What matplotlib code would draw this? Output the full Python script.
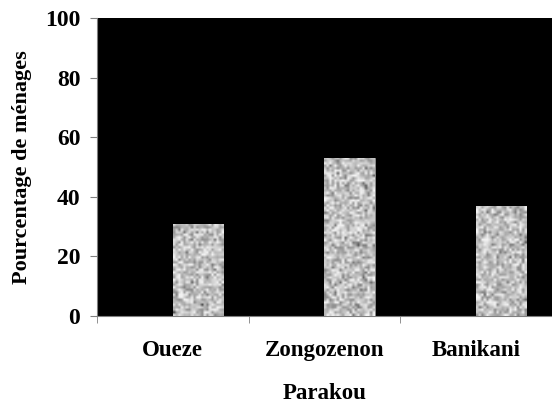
import numpy as np
import matplotlib.pyplot as plt

categories = ['Oueze', 'Zongozenon', 'Banikani']
values = [31, 53, 37]
yticks = [0, 20, 40, 60, 80, 100]

plt.rcParams['font.family'] = ['Liberation Serif', 'DejaVu Serif']
plt.rcParams['font.weight'] = 'bold'

fig = plt.figure(figsize=(5.52, 4.04), dpi=100)
ax = fig.add_axes([0.1757, 0.2178, 0.8243, 0.7376])
ax.set_facecolor('black')

x = np.arange(len(categories))
bars = ax.bar(x, values, width=0.33, align='edge', color='#b0b0b0',
              edgecolor='#909090', linewidth=0.6, zorder=2)

# speckled gray texture inside the bars
rng = np.random.default_rng(7)
for b in bars:
    noise = rng.normal(0.76, 0.14, size=(120, 20))
    noise = np.clip(noise, 0.25, 0.95)
    im = ax.imshow(noise, cmap='gray', vmin=0, vmax=1, aspect='auto',
                   extent=(b.get_x(), b.get_x() + b.get_width(), 0, 100),
                   interpolation='bilinear', zorder=3)
    im.set_clip_path(b)

ax.set_xlim(-0.5, 2.5)
ax.set_ylim(0, 100)
ax.set_yticks(yticks)
ax.set_xticks(x)
ax.set_xticklabels(categories, fontsize=16.5, fontweight='bold')
ax.set_xticks([-0.5, 0.5, 1.5], minor=True)
ax.tick_params(axis='x', which='major', length=0, pad=17)
ax.tick_params(axis='x', which='minor', length=5, color='#808080')
ax.tick_params(axis='y', length=5, color='#808080', labelsize=17, pad=7)
for lab in ax.get_yticklabels():
    lab.set_fontweight('bold')

for s in ['top', 'right']:
    ax.spines[s].set_visible(False)
for s in ['left', 'bottom']:
    ax.spines[s].set_color('#808080')

ax.set_xlabel('Parakou', fontsize=16.5, fontweight='bold', labelpad=16)
ax.set_ylabel('Pourcentage de ménages', fontsize=16, fontweight='bold', labelpad=9)

fig.savefig('out.png', dpi=100)
